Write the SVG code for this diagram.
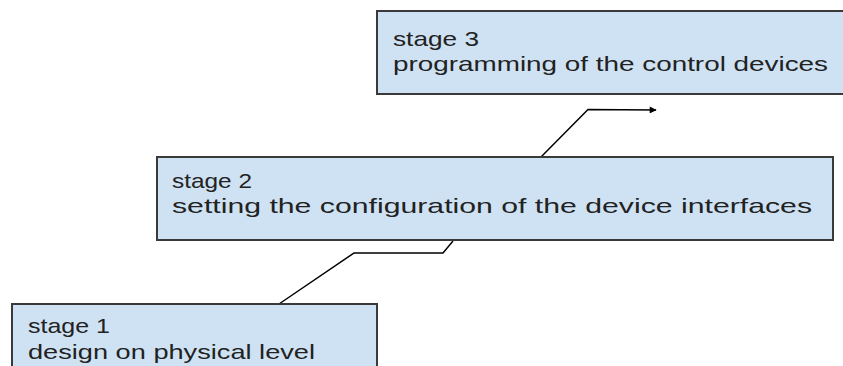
<svg xmlns="http://www.w3.org/2000/svg" width="843" height="366" viewBox="0 0 843 366">
  <defs>
    <marker id="arrow" viewBox="0 0 10 10" refX="9" refY="5" markerWidth="8" markerHeight="7" markerUnits="userSpaceOnUse" orient="auto">
      <path d="M0,0 L10,5 L0,10 z" fill="#000"/>
    </marker>
    <style>
      .box { fill: #cfe2f3; stroke: #3a3a3a; stroke-width: 2; }
      .label { font-family: "Liberation Sans", Arial, sans-serif; font-size: 21px; fill: #222; }
      .link { fill: none; stroke: #000; stroke-width: 1.5; stroke-linejoin: miter; }
    </style>
  </defs>
  <rect width="843" height="366" fill="#fff"/>

  <g id="connectors">
    <polyline class="link" points="279,304 354,253 443,253 453,241"/>
    <polyline class="link" points="541,157 588,109.5 656,110" marker-end="url(#arrow)"/>
  </g>

  <g id="stage3">
    <rect class="box" x="377" y="11" width="470" height="83"/>
    <text class="label" x="393" y="46" textLength="86" lengthAdjust="spacingAndGlyphs">stage 3</text>
    <text class="label" x="393" y="71" textLength="435" lengthAdjust="spacingAndGlyphs">programming of the control devices</text>
  </g>

  <g id="stage2">
    <rect class="box" x="157" y="157" width="676" height="83"/>
    <text class="label" x="172" y="188" textLength="80" lengthAdjust="spacingAndGlyphs">stage 2</text>
    <text class="label" x="172" y="213" textLength="640" lengthAdjust="spacingAndGlyphs">setting the configuration of the device interfaces</text>
  </g>

  <g id="stage1">
    <rect class="box" x="12" y="304" width="365" height="70"/>
    <text class="label" x="28" y="333" textLength="82" lengthAdjust="spacingAndGlyphs">stage 1</text>
    <text class="label" x="28" y="359" textLength="287" lengthAdjust="spacingAndGlyphs">design on physical level</text>
  </g>
</svg>
